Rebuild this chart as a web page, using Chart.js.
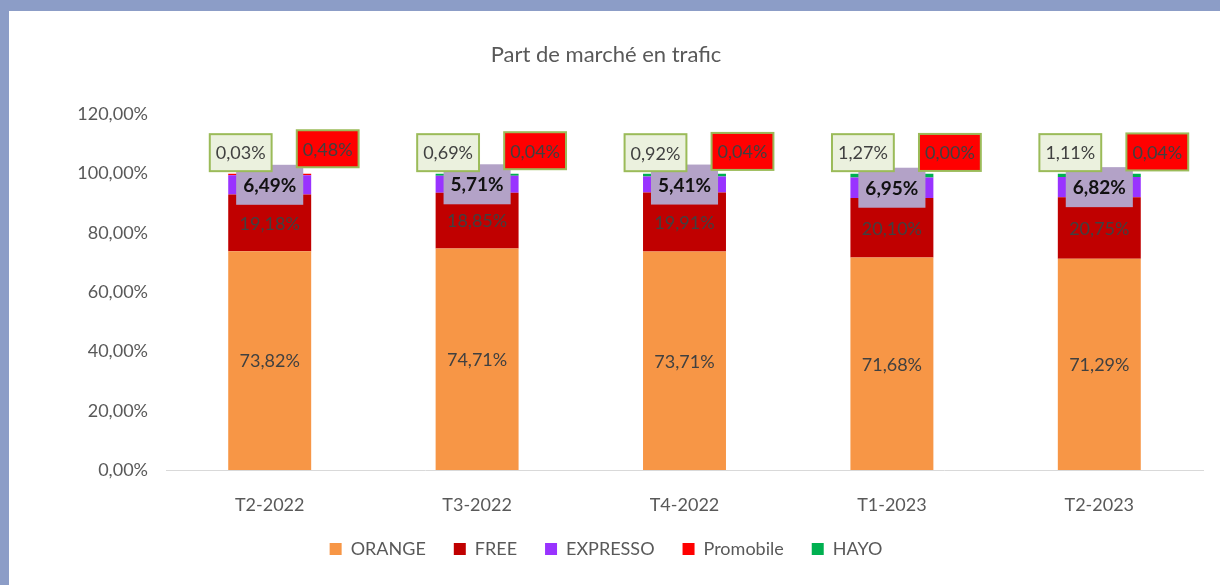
<!DOCTYPE html>
<html lang="fr">
<head>
<meta charset="UTF-8">
<title>Part de marché en trafic</title>
<style>
    body {
        margin: 0;
        background: #fff;
    }
    .cadre {
        width: 1211px;
        height: 574px;
        border-top: 11px solid #8c9dc7;
        border-left: 9px solid #8c9dc7;
    }
    canvas {
        display: block;
    }
</style>
</head>
<body>
<div class="cadre"><canvas id="trafic" width="1211" height="574"></canvas></div>

<script src="https://cdn.jsdelivr.net/npm/chart.js"></script>
<script>
// données (en %)
const periodes = ['T2-2022', 'T3-2022', 'T4-2022', 'T1-2023', 'T2-2023'];
const orange = [73.82, 74.71, 73.71, 71.68, 71.29];
const free = [19.18, 18.85, 19.91, 20.10, 20.75];
const expresso = [6.49, 5.71, 5.41, 6.95, 6.82];
const promobile = [0.48, 0.04, 0.04, 0.00, 0.04];
const hayo = [0.03, 0.69, 0.92, 1.27, 1.11];
const yMax = 120;
const yPas = 20;

const POLICE = 'Lato, "Open Sans", sans-serif';
const GRIS = '#595959';

function enPourcent(v) {
    return v.toFixed(2).replace('.', ',') + '%';
}

// etiquettes de valeurs (pas de plugin datalabels dispo)
const etiquettes = {
    id: 'etiquettes',
    afterDatasetsDraw(chart) {
        const ctx = chart.ctx;
        chart.data.datasets.forEach((ds, i) => {
            const st = ds.etiquette;
            const meta = chart.getDatasetMeta(i);
            meta.data.forEach((bar, j) => {
                const txt = enPourcent(ds.data[j]);
                let x = bar.x, y;
                if (st.pos === 'centre') {
                    y = (bar.y + bar.base) / 2;
                } else {
                    x += st.dx;
                    y = bar.y + st.dy;
                }
                ctx.save();
                ctx.font = (st.gras ? 'bold ' : '') + st.taille + 'px ' + POLICE;
                const tw = ctx.measureText(txt).width;
                if (st.fond) {
                    const w = tw + 2 * st.padX, h = st.h;
                    ctx.fillStyle = st.fond;
                    ctx.fillRect(x - w / 2, y - h / 2, w, h);
                    if (st.bord) {
                        ctx.strokeStyle = st.bord;
                        ctx.lineWidth = 2;
                        ctx.strokeRect(x - w / 2, y - h / 2, w, h);
                    }
                }
                ctx.fillStyle = st.couleur;
                ctx.textAlign = 'center';
                ctx.textBaseline = 'middle';
                ctx.fillText(txt, x, y + 1);
                ctx.restore();
            });
        });
    }
};

new Chart(document.getElementById('trafic'), {
    type: 'bar',
    data: {
        labels: periodes,
        datasets: [
            { label: 'ORANGE', data: orange, backgroundColor: '#f79646',
              etiquette: { pos: 'centre', taille: 18, couleur: '#404040' } },
            { label: 'FREE', data: free, backgroundColor: '#c00000',
              etiquette: { pos: 'centre', taille: 18, couleur: '#404040' } },
            { label: 'EXPRESSO', data: expresso, backgroundColor: '#9933ff',
              etiquette: { pos: 'centre', taille: 19, gras: true, couleur: '#111', fond: '#b3a2c7', padX: 7, h: 40 } },
            { label: 'Promobile', data: promobile, backgroundColor: '#ff0000',
              etiquette: { pos: 'haut', dx: 58, dy: -25, taille: 18, couleur: '#404040', fond: '#ff0000', bord: '#9bbb59', padX: 6, h: 37 } },
            { label: 'HAYO', data: hayo, backgroundColor: '#00b050',
              etiquette: { pos: 'haut', dx: -29, dy: -21, taille: 18, couleur: '#404040', fond: '#ebf1de', bord: '#9bbb59', padX: 6, h: 37 } }
        ]
    },
    options: {
        responsive: false,
        animation: false,
        barPercentage: 0.4,
        categoryPercentage: 1,
        layout: {
            padding: { left: 0, right: 17, top: 0, bottom: 17 }
        },
        plugins: {
            title: {
                display: true,
                text: 'Part de marché en trafic',
                color: GRIS,
                font: { family: POLICE, size: 22, weight: 'normal' },
                padding: { top: 31, bottom: 46 }
            },
            legend: {
                position: 'bottom',
                labels: {
                    color: GRIS,
                    font: { family: POLICE, size: 18 },
                    boxWidth: 12,
                    boxHeight: 12,
                    padding: 28
                }
            },
            tooltip: { enabled: false }
        },
        scales: {
            x: {
                stacked: true,
                grid: { display: false, drawTicks: false },
                border: { display: true, color: '#d9d9d9' },
                ticks: { color: GRIS, font: { family: POLICE, size: 18 }, padding: 24 },
                afterFit(scale) { scale.height = 42; }
            },
            y: {
                stacked: true,
                min: 0,
                max: yMax,
                grid: { display: false, drawTicks: false },
                border: { display: false },
                ticks: {
                    stepSize: yPas,
                    color: GRIS,
                    font: { family: POLICE, size: 18 },
                    padding: 18,
                    callback: v => enPourcent(v)
                },
                afterFit(scale) { scale.width = 157; }
            }
        }
    },
    plugins: [etiquettes]
});
</script>
</body>
</html>
